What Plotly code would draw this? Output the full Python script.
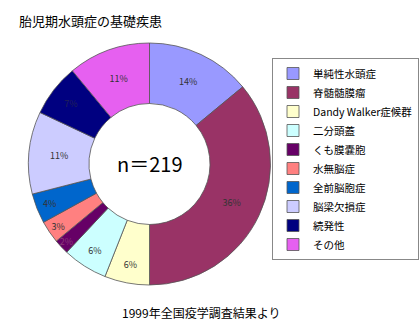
import plotly.graph_objects as go

categories = ["単純性水頭症", "脊髄髄膜瘤", "Dandy Walker症候群", "二分頭蓋", "くも膜嚢胞",
              "水無脳症", "全前脳胞症", "脳梁欠損症", "続発性", "その他"]
values = [14, 36, 6, 6, 2, 3, 4, 11, 7, 11]
colors = ["#9999FF", "#993366", "#FFFFCC", "#CCFFFF", "#660066",
          "#FF8080", "#0066CC", "#CCCCFF", "#000080", "#E660F0"]
label_colors = ["#333333", "#333333", "#333333", "#333333", "#8A3A7A",
                "#333333", "#333333", "#333333", "#222255", "#333333"]

FONT = "Noto Sans CJK JP"
W, H = 420, 335
cx, cy, r = 149.5, 164, 121

fig = go.Figure(go.Pie(
    labels=categories, values=values, sort=False, direction="clockwise", rotation=0,
    hole=0.5,
    marker=dict(colors=colors, line=dict(color="#555555", width=0.8)),
    textinfo="percent", texttemplate="%{value}%", textposition="inside",
    insidetextorientation="horizontal",
    textfont=dict(family=FONT, size=9, color="#333333"),
    insidetextfont=dict(family=FONT, size=9, color=label_colors),
    domain=dict(x=[(cx - r) / W, (cx + r) / W], y=[1 - (cy + r) / H, 1 - (cy - r) / H]),
    hoverinfo="skip",
))

fig.update_layout(
    width=W, height=H, margin=dict(l=0, r=0, t=0, b=0, autoexpand=False),
    paper_bgcolor="white", plot_bgcolor="white",
    font=dict(family=FONT, color="#000000"),
    uniformtext=dict(minsize=9, mode="show"),
    showlegend=True,
    legend=dict(x=272 / W, y=1 - 58 / H, xanchor="left", yanchor="top",
                bordercolor="#888888", borderwidth=1, bgcolor="white",
                font=dict(family=FONT, size=10.5, color="#000000"),
                itemwidth=30,
                traceorder="normal"),
    annotations=[
        dict(text="胎児期水頭症の基礎疾患", x=17 / W, y=1 - 21 / H, xref="paper", yref="paper",
             xanchor="left", yanchor="middle", showarrow=False,
             font=dict(family=FONT, size=13, color="#000000")),
        dict(text="n＝219", x=cx / W, y=1 - cy / H, xref="paper", yref="paper",
             xanchor="center", yanchor="middle", showarrow=False,
             font=dict(family=FONT, size=20, color="#000000")),
        dict(text="1999年全国疫学調査結果より", x=201 / W, y=1 - 312 / H, xref="paper", yref="paper",
             xanchor="center", yanchor="middle", showarrow=False,
             font=dict(family=FONT, size=12, color="#000000")),
    ],
)

fig.write_html("out.html")
